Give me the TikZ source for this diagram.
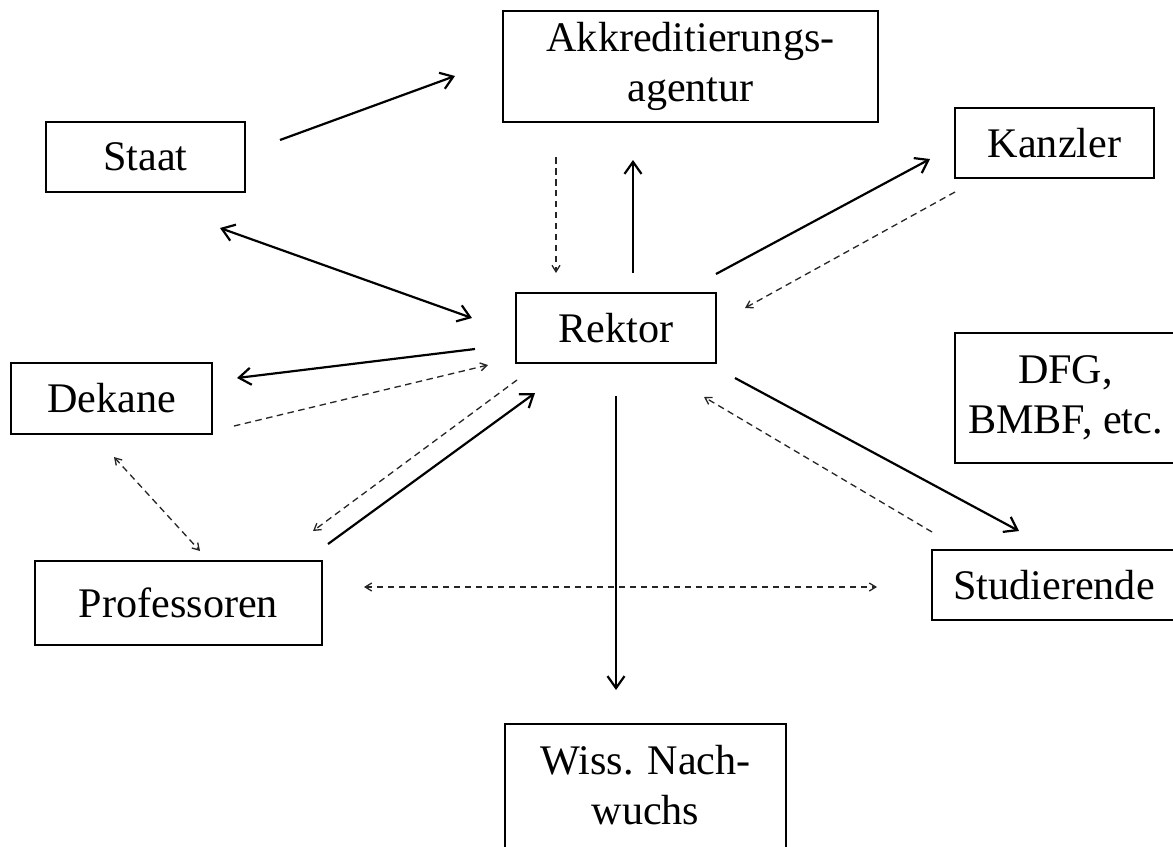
\documentclass[tikz,border=0pt]{standalone}
\usepackage{fontspec}
\setmainfont{Liberation Serif}
\usetikzlibrary{arrows.meta}
\begin{document}
\begin{tikzpicture}[x=0.02cm,y=-0.02cm,
  boxst/.style={draw, line width=0.85pt, inner sep=0pt, align=center,
    font=\fontsize{24}{28.5}\selectfont},
  txt/.style={inner sep=0pt, align=center, font=\fontsize{24}{28.5}\selectfont},
  solidarr/.style={line width=1.25pt, -{Straight Barb[length=2.4mm,width=3.4mm]}},
  solidboth/.style={line width=1.25pt, {Straight Barb[length=2.4mm,width=3.4mm]}-{Straight Barb[length=2.4mm,width=3.4mm]}},
  dasharr/.style={line width=0.75pt, black!85, dash pattern=on 1.3mm off 0.9mm, -{Straight Barb[length=1.3mm,width=1.6mm]}},
  dashboth/.style={line width=0.75pt, black!85, dash pattern=on 1.3mm off 0.9mm, {Straight Barb[length=1.3mm,width=1.6mm]}-{Straight Barb[length=1.3mm,width=1.6mm]}}
]
\useasboundingbox (0,0) rectangle (1173,846);
\clip (0,0) rectangle (1173,846);

% boxes
\node[boxst, minimum width=7.5cm, minimum height=2.22cm] (akk) at (690.5,66.5) {Akkreditierungs-\\agentur};
\node[boxst, minimum width=3.98cm, minimum height=1.4cm] (staat) at (145.5,157) {Staat};
\node[boxst, minimum width=3.98cm, minimum height=1.4cm] (kanzler) at (1054.5,143) {Kanzler};
\node[boxst, minimum width=4.0cm, minimum height=1.4cm] (rektor) at (616,328) {Rektor};
\node[boxst, minimum width=4.02cm, minimum height=1.42cm] (dekane) at (111.5,398.5) {Dekane};
\node[boxst, minimum width=4.42cm, minimum height=2.6cm] (dfg) at (1065.5,398) {DFG,\\BMBF, etc.};
\node[boxst, minimum width=4.88cm, minimum height=1.4cm] (stud) at (1054,585) {Studierende};
\node[boxst, minimum width=5.74cm, minimum height=1.68cm] (prof) at (178.5,603) {Professoren};
\node[txt] (wiss) at (645.5,785) {Wiss. Nach-\\wuchs};
\draw[line width=0.85pt] (505,880) -- (505,724) -- (786,724) -- (786,880);

% connector end points
\coordinate (sa1) at (280,140);  \coordinate (sa2) at (455,76);
\coordinate (ar1) at (556,157);  \coordinate (ar2) at (556,273);
\coordinate (ra1) at (633,273);  \coordinate (ra2) at (633,160);
\coordinate (rk1) at (716,274);  \coordinate (rk2) at (930,159);
\coordinate (kr1) at (955,192);  \coordinate (kr2) at (745,308);
\coordinate (sr1) at (220,228);  \coordinate (sr2) at (472,318);
\coordinate (rd1) at (475,349);  \coordinate (rd2) at (237,378);
\coordinate (dr1) at (234,426);  \coordinate (dr2) at (488,365);
\coordinate (rp1) at (517,380);  \coordinate (rp2) at (313,531);
\coordinate (pr1) at (328,544);  \coordinate (pr2) at (535,393);
\coordinate (dp1) at (114,457);  \coordinate (dp2) at (200,551);
\coordinate (ps1) at (364,587);  \coordinate (ps2) at (877,587);
\coordinate (rw1) at (616,396);  \coordinate (rw2) at (616,690);
\coordinate (rs1) at (735,378);  \coordinate (rs2) at (1019,531);
\coordinate (sr3) at (932,532);  \coordinate (sr4) at (704,397);

% connectors
\draw[solidarr] (sa1) -- (sa2);
\draw[dasharr] (ar1) -- (ar2);
\draw[solidarr] (ra1) -- (ra2);
\draw[solidarr] (rk1) -- (rk2);
\draw[dasharr] (kr1) -- (kr2);
\draw[solidboth] (sr1) -- (sr2);
\draw[solidarr] (rd1) -- (rd2);
\draw[dasharr] (dr1) -- (dr2);
\draw[dasharr] (rp1) -- (rp2);
\draw[solidarr] (pr1) -- (pr2);
\draw[dashboth] (dp1) -- (dp2);
\draw[dashboth] (ps1) -- (ps2);
\draw[solidarr] (rw1) -- (rw2);
\draw[solidarr] (rs1) -- (rs2);
\draw[dasharr] (sr3) -- (sr4);
\end{tikzpicture}
\end{document}
